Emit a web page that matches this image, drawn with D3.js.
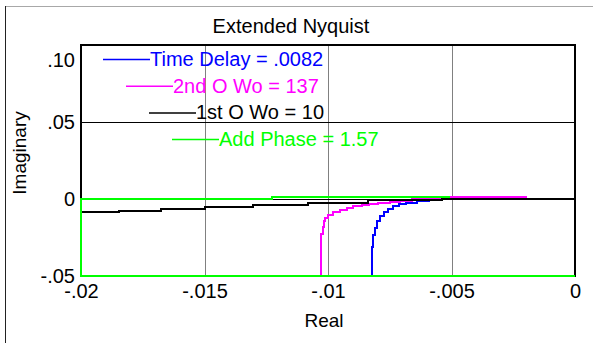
<!DOCTYPE html>
<html>
<head>
<meta charset="utf-8">
<script src="https://cdn.jsdelivr.net/npm/d3@7"></script>
<style>
  body { margin: 0; background: #fff; }
  text { font-family: Arial, "Liberation Sans", sans-serif; }
</style>
</head>
<body>
<div id="chart"></div>
<script>
// Axis ticks
const xTicks = [-0.02, -0.015, -0.01, -0.005, 0];
const xTickLabels = ['-.02', '-.015', '-.01', '-.005', '0'];
const yTicks = [-0.05, 0, 0.05, 0.10];
const yTickLabels = ['-.05', '0', '.05', '.10'];

// Legend
const seriesNames = ['Time Delay = .0082', '2nd O Wo = 137', '1st O Wo = 10', 'Add Phase = 1.57'];
const seriesColors = ['#0000ff', '#ff00ff', '#000000', '#00ff00'];

// [real, imaginary] - points outside the axes end up on the frame (clamped scales)
const timeDelay = [
  [-0.00823, -0.08], [-0.00823, -0.0313], [-0.00817, -0.0237], [-0.00810, -0.0187],
  [-0.00800, -0.0141], [-0.00789, -0.0108], [-0.00773, -0.0082], [-0.00757, -0.0062],
  [-0.00737, -0.0046], [-0.00713, -0.0033], [-0.00684, -0.0023], [-0.00641, -0.0014],
  [-0.00590, -0.0008], [-0.00540, -0.0008]
];
const secondOrder = [
  [-0.01028, -0.08], [-0.01028, -0.0226], [-0.01022, -0.0180], [-0.01017, -0.0144],
  [-0.01012, -0.0121], [-0.01000, -0.0104], [-0.00980, -0.0087], [-0.00951, -0.0070],
  [-0.00923, -0.0056], [-0.00899, -0.0046], [-0.00864, -0.0038], [-0.00834, -0.0032],
  [-0.00798, -0.0025], [-0.00749, -0.0018], [-0.00709, -0.0012], [-0.00661, 0.0000],
  [-0.00526, 0.0014], [-0.00194, 0.0014]
];
const firstOrder = [
  [-0.02, -0.0084], [-0.01846, -0.0075], [-0.01676, -0.0062], [-0.01498, -0.0051],
  [-0.01304, -0.0036], [-0.01081, -0.0023], [-0.00838, -0.0008], [-0.00538, 0.0000],
  [0, 0]
];
const addPhase = [
  [0, -0.08], [-0.03, -0.08], [-0.03, 0], [-0.01228, 0.0014], [-0.00506, 0.0014]
];
const series = [timeDelay, secondOrder, firstOrder, addPhase];

const width = 593, height = 343;
const plot = { left: 81, right: 575, top: 45, bottom: 276 };

const svg = d3.select('#chart')
  .append('svg')
    .attr('width', width)
    .attr('height', height)
    .style('display', 'block');

// Outer frame
svg.append('line')
  .attr('x1', 5).attr('x2', width).attr('y1', 6.5).attr('y2', 6.5)
  .attr('stroke', '#a8a8a8').attr('stroke-width', 1);
svg.append('line')
  .attr('x1', 5.5).attr('x2', 5.5).attr('y1', 6).attr('y2', height)
  .attr('stroke', '#222').attr('stroke-width', 1);

// Scales
const x = d3.scaleLinear().domain([-0.02, 0]).range([plot.left, plot.right]).clamp(true);
const y = d3.scaleLinear().domain([-0.05, 0.10]).range([plot.bottom, plot.top]).clamp(true);

// Grid
svg.append('g')
  .selectAll('line')
  .data(xTicks.slice(1, -1))
  .join('line')
    .attr('x1', d => Math.round(x(d)) + 0.5).attr('x2', d => Math.round(x(d)) + 0.5)
    .attr('y1', plot.top).attr('y2', plot.bottom)
    .attr('stroke', '#808080').attr('stroke-width', 1);

svg.append('g')
  .selectAll('line')
  .data(yTicks.slice(1, -1))
  .join('line')
    .attr('x1', plot.left).attr('x2', plot.right)
    .attr('y1', d => Math.round(y(d)) + 0.5).attr('y2', d => Math.round(y(d)) + 0.5)
    .attr('stroke', '#000').attr('stroke-width', 1.2);

// Plot frame
svg.append('rect')
  .attr('x', plot.left).attr('y', plot.top)
  .attr('width', plot.right - plot.left).attr('height', plot.bottom - plot.top)
  .attr('fill', 'none').attr('stroke', '#000').attr('stroke-width', 2);

// Axes (labels only)
const xAxis = svg.append('g')
  .attr('transform', `translate(0, ${plot.bottom})`)
  .call(d3.axisBottom(x).tickValues(xTicks).tickSize(0).tickPadding(8)
    .tickFormat((d, i) => xTickLabels[i]))
  .call(g => g.select('.domain').remove());

const yAxis = svg.append('g')
  .attr('transform', `translate(${plot.left}, 0)`)
  .call(d3.axisLeft(y).tickValues(yTicks).tickSize(0).tickPadding(6)
    .tickFormat((d, i) => yTickLabels[i]))
  .call(g => g.select('.domain').remove());

yAxis.selectAll('text')
  .attr('dy', d => d === 0.10 ? '1.05em' : '0.32em');

svg.selectAll('.tick text')
  .attr('font-family', 'Arial, "Liberation Sans", sans-serif')
  .attr('font-size', 20)
  .attr('fill', '#000');

// Curves
const line = d3.line()
  .x(d => x(d[0]))
  .y(d => y(d[1]))
  .curve(d3.curveStepAfter);

svg.append('g')
  .selectAll('path')
  .data(series)
  .join('path')
    .attr('d', line)
    .attr('fill', 'none')
    .attr('stroke', (d, i) => seriesColors[i])
    .attr('stroke-width', 2)
    .attr('shape-rendering', 'crispEdges');

// Legend
const legend = svg.append('g')
  .selectAll('g')
  .data(seriesNames)
  .join('g')
    .attr('transform', (d, i) => `translate(${103 + i * 23}, ${59.5 + i * 26.7})`);

legend.append('line')
  .attr('x1', 0).attr('x2', 47)
  .attr('stroke', (d, i) => seriesColors[i])
  .attr('stroke-width', 1.5);

legend.append('text')
  .attr('x', 47)
  .attr('dy', 6.3)
  .attr('font-size', 20)
  .attr('fill', (d, i) => seriesColors[i])
  .text(d => d);

// Titles
svg.append('text')
  .attr('x', 291).attr('y', 33)
  .attr('text-anchor', 'middle')
  .attr('font-size', 20)
  .text('Extended Nyquist');

svg.append('text')
  .attr('x', 324).attr('y', 327)
  .attr('text-anchor', 'middle')
  .attr('font-size', 19)
  .text('Real');

svg.append('text')
  .attr('transform', 'translate(26, 153) rotate(-90)')
  .attr('text-anchor', 'middle')
  .attr('font-size', 19)
  .text('Imaginary');
</script>
</body>
</html>
